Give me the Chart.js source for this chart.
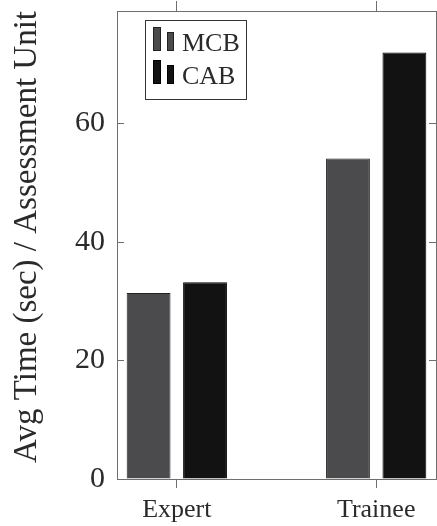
<!DOCTYPE html>
<html>
<head>
<meta charset="utf-8">
<script src="https://cdn.jsdelivr.net/npm/chart.js@4.4.1/dist/chart.umd.min.js"></script>
<style>
  html, body { margin: 0; padding: 0; background: #ffffff; }
  #wrap { width: 437px; height: 526px; }
</style>
</head>
<body>
<div id="wrap"><canvas id="chart" width="437" height="526"></canvas></div>
<script>
// Average time per assessment unit, by participant group
const categories = ['Expert', 'Trainee'];
const seriesNames = ['MCB', 'CAB'];
const mcbTimes = [31.4, 54.1];
const cabTimes = [33.2, 72.0];
const yTickValues = [0, 20, 40, 60];
const yAxisTitle = 'Avg Time (sec) / Assessment Unit';

const FONT = "'Liberation Serif', 'Times New Roman', serif";
const TEXT = '#2a2a2a';
const AXIS = '#6e6e6e';
const FILLS = ['#4b4b4e', '#121212'];
const EDGES = ['#222222', '#000000'];

Chart.defaults.font.family = FONT;
Chart.defaults.color = TEXT;

const categoryTicks = s => { s.ticks = categories.map((_, i) => ({ value: i })); };
const valueTicks = s => { s.ticks = yTickValues.map(v => ({ value: v })); };

// fixed axis sizes, no extra layout padding from label overhang
const fixSize = (w, h) => s => {
  if (w !== null) s.width = w;
  if (h !== null) s.height = h;
  s.paddingTop = 0; s.paddingBottom = 0; s.paddingLeft = 0; s.paddingRight = 0;
};

// Framed legend with paired-bar swatches, placed in the upper left of the plot
const boxedLegend = {
  id: 'boxedLegend',
  afterDatasetsDraw(chart) {
    const ctx = chart.ctx;
    const area = chart.chartArea;
    const x0 = area.left + 28, y0 = area.top + 9;
    const w = 101, h = 79;
    ctx.save();
    ctx.fillStyle = '#ffffff';
    ctx.fillRect(x0, y0, w, h);
    ctx.strokeStyle = '#333333';
    ctx.lineWidth = 1;
    ctx.strokeRect(x0 + 0.5, y0 + 0.5, w, h);
    chart.data.datasets.forEach((ds, i) => {
      const base = y0 + 31 + i * 33;
      ctx.fillStyle = ds.backgroundColor;
      ctx.strokeStyle = ds.borderColor;
      ctx.fillRect(x0 + 8, base - 24, 8, 24);
      ctx.strokeRect(x0 + 8.5, base - 23.5, 7, 23);
      ctx.fillRect(x0 + 22, base - 19, 7, 19);
      ctx.strokeRect(x0 + 22.5, base - 18.5, 6, 18);
      ctx.fillStyle = TEXT;
      ctx.font = '26px ' + FONT;
      ctx.textBaseline = 'alphabetic';
      ctx.textAlign = 'left';
      ctx.fillText(ds.label, x0 + 37, base);
    });
    ctx.restore();
  }
};

const barStyle = {
  borderWidth: 1,
  categoryPercentage: 0.566,
  barPercentage: 0.777
};

new Chart(document.getElementById('chart'), {
  type: 'bar',
  data: {
    datasets: [
      Object.assign({
        label: seriesNames[0],
        data: categories.map((c, i) => ({ x: i, y: mcbTimes[i] })),
        backgroundColor: FILLS[0],
        borderColor: EDGES[0]
      }, barStyle),
      Object.assign({
        label: seriesNames[1],
        data: categories.map((c, i) => ({ x: i, y: cabTimes[i] })),
        backgroundColor: FILLS[1],
        borderColor: EDGES[1]
      }, barStyle)
    ]
  },
  options: {
    responsive: false,
    animation: false,
    devicePixelRatio: 1,
    layout: { padding: 0 },
    plugins: {
      legend: { display: false },
      tooltip: { enabled: false }
    },
    scales: {
      x: {
        type: 'linear',
        position: 'bottom',
        offset: false,
        min: -0.3,
        max: 1.3,
        afterBuildTicks: categoryTicks,
        afterFit: fixSize(null, 47),
        grid: { offset: false, drawOnChartArea: false, tickLength: 9, tickColor: AXIS, tickWidth: 1 },
        border: { color: AXIS, width: 1 },
        ticks: {
          callback: v => categories[v] ?? '',
          font: { family: FONT, size: 26 },
          color: TEXT,
          padding: 7,
          maxRotation: 0,
          autoSkip: false
        }
      },
      xTop: {
        type: 'linear',
        position: 'top',
        offset: false,
        min: -0.3,
        max: 1.3,
        afterBuildTicks: categoryTicks,
        afterFit: fixSize(null, 11),
        grid: { offset: false, drawOnChartArea: false, tickLength: 10, tickColor: AXIS, tickWidth: 1 },
        border: { color: AXIS, width: 1 },
        ticks: { display: false }
      },
      y: {
        position: 'left',
        min: 0,
        max: 79,
        afterBuildTicks: valueTicks,
        afterFit: fixSize(117, null),
        grid: { drawOnChartArea: false, tickLength: -7, tickColor: AXIS, tickWidth: 1 },
        border: { color: AXIS, width: 1 },
        ticks: { font: { family: FONT, size: 30 }, color: TEXT, padding: 19 },
        title: {
          display: true,
          text: yAxisTitle,
          align: 'end',
          color: TEXT,
          font: { family: FONT, size: 33 },
          padding: { top: 8, bottom: 0 }
        }
      },
      yRight: {
        position: 'right',
        min: 0,
        max: 79,
        afterBuildTicks: valueTicks,
        afterFit: fixSize(1, null),
        grid: { drawOnChartArea: false, tickLength: -7, tickColor: AXIS, tickWidth: 1 },
        border: { color: AXIS, width: 1 },
        ticks: { display: false }
      }
    }
  },
  plugins: [boxedLegend]
});
</script>
</body>
</html>
